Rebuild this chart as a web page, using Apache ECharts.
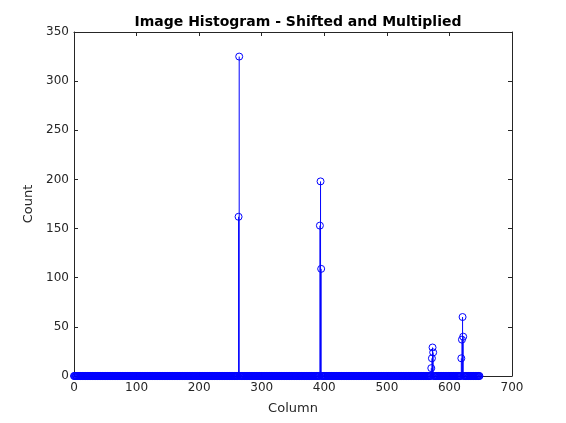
<!DOCTYPE html>
<html><head><meta charset="utf-8">
<script src="https://cdn.jsdelivr.net/npm/echarts@6/dist/echarts.min.js"></script>
<style>html,body{margin:0;padding:0;background:#fff}#c{width:566px;height:423px}</style>
</head><body><div id="c"></div>
<script>
// Data
const lastColumn = 648;                 // columns run 0..lastColumn (count 0 elsewhere)
const peakColumns = [263, 264, 393, 394, 395, 571, 572, 573, 574, 619, 620, 621, 622];
const peakCounts  = [162, 325, 153, 198, 109,   8,  18,  29,  24,  18,  37,  60,  40];
const xTicks = [0, 100, 200, 300, 400, 500, 600, 700];
const yTicks = [0, 50, 100, 150, 200, 250, 300, 350];
const titleText = 'Image Histogram - Shifted and Multiplied';
const xLabel = 'Column';
const yLabel = 'Count';

const counts = [];
for (let c = 0; c <= lastColumn; c++) counts.push([c, 0]);
peakColumns.forEach((c, i) => { counts[c][1] = peakCounts[i]; });

const font = 'DejaVu Sans';
const axisCol = '#262626';
const chart = echarts.init(document.getElementById('c'));
const common = {
  min: 0, splitLine: {show: false},
  axisLine: {show: true, onZero: false, lineStyle: {color: axisCol, width: 1}},
  axisTick: {inside: true, length: 4, lineStyle: {color: axisCol}},
};
chart.setOption({
  animation: false,
  title: {text: titleText, left: 293, top: 10, textAlign: 'center',
    textStyle: {fontFamily: font, fontSize: 14, fontWeight: 'bold', color: '#000'}},
  grid: {left: 74, right: 54, top: 32, bottom: 47},
  xAxis: [
    Object.assign({}, common, {type: 'value', max: xTicks[xTicks.length-1], interval: xTicks[1]-xTicks[0],
      name: xLabel, nameLocation: 'middle', nameGap: 26,
      nameTextStyle: {fontFamily: font, fontSize: 13, color: axisCol},
      axisLabel: {fontFamily: font, fontSize: 12, color: axisCol, margin: 6}}),
    Object.assign({}, common, {type: 'value', position: 'top', max: xTicks[xTicks.length-1], interval: xTicks[1]-xTicks[0],
      axisLabel: {show: false}})
  ],
  yAxis: [
    Object.assign({}, common, {type: 'value', max: yTicks[yTicks.length-1], interval: yTicks[1]-yTicks[0],
      name: yLabel, nameLocation: 'middle', nameGap: 28,
      nameTextStyle: {fontFamily: font, fontSize: 13, color: axisCol},
      axisLabel: {fontFamily: font, fontSize: 12, color: axisCol, margin: 5}}),
    Object.assign({}, common, {type: 'value', position: 'right', max: yTicks[yTicks.length-1], interval: yTicks[1]-yTicks[0],
      axisLabel: {show: false}})
  ],
  series: [{
    type: 'custom',
    clip: false,
    data: counts,
    encode: {x: 0, y: 1},
    renderItem: function (params, api) {
      const x = api.value(0), y = api.value(1);
      const p0 = api.coord([x, 0]);
      const p1 = api.coord([x, y]);
      const children = [];
      if (y !== 0) {
        children.push({type: 'line', shape: {x1: p0[0], y1: p0[1], x2: p1[0], y2: p1[1]},
          style: {stroke: '#0000ff', lineWidth: 1}});
      }
      children.push({type: 'circle', shape: {cx: p1[0], cy: p1[1], r: 3.5},
        style: {fill: null, stroke: '#0000ff', lineWidth: 1}});
      return {type: 'group', children: children};
    }
  }]
});
</script></body></html>
